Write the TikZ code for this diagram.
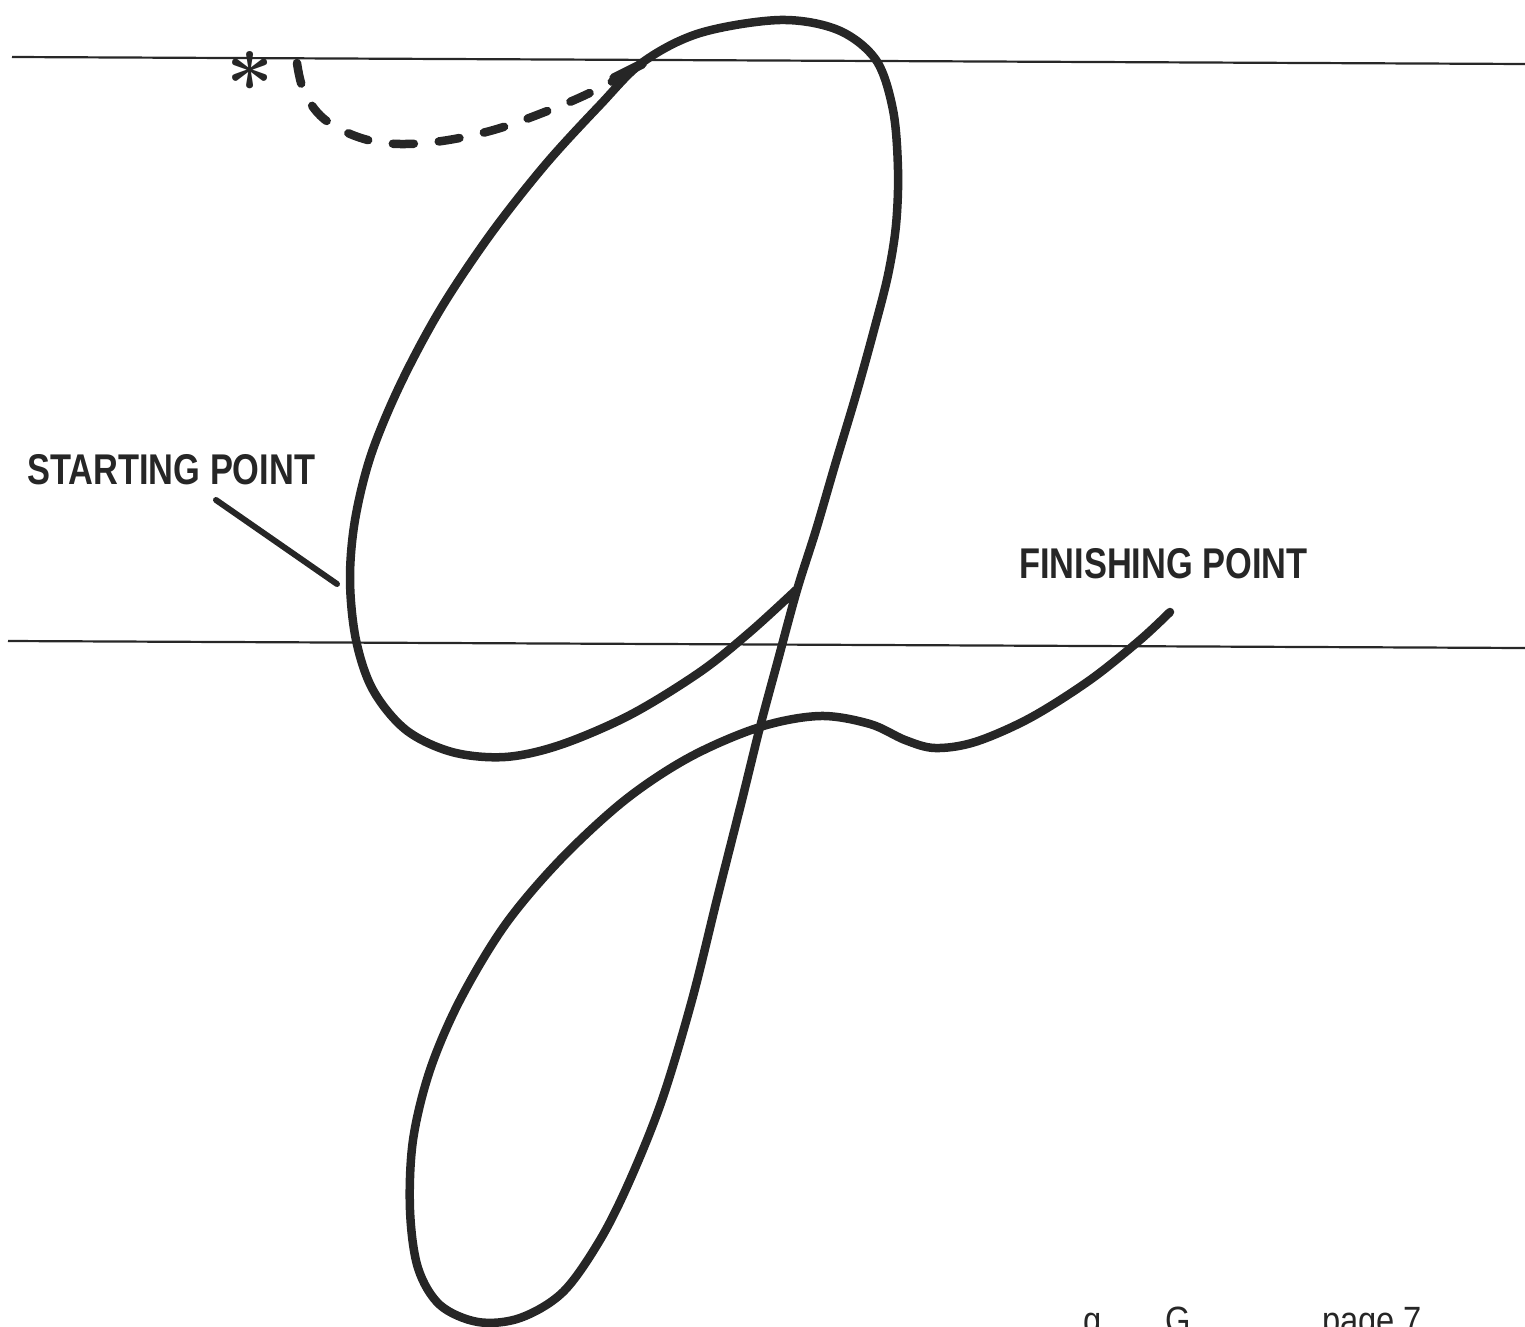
\documentclass[tikz,border=0pt]{standalone}
\usepackage{fontspec}
\usepackage{tikz}
\usetikzlibrary{calc}
\newfontfamily\capsfont{Liberation Sans}[FakeStretch=0.80]
\newfontfamily\pagefont{Liberation Sans}[FakeStretch=0.86]
\definecolor{Cink}{RGB}{38, 38, 38}
\definecolor{Cguide}{RGB}{40, 40, 40}
\tikzset{
    guide/.style={draw=Cguide, line width=2.2pt},
    pen/.style={draw=Cink, line width=8.5pt, line cap=round, line join=round},
    penlead/.style={pen, line width=8.5pt, dash pattern=on 21pt off 25pt},
    pointer/.style={draw=Cink, line width=6pt, line cap=round},
    ptlabel/.style={anchor=base west, inner sep=0pt, text=Cink,
        font=\capsfont\bfseries\fontsize{43}{48}\selectfont},
    pglabel/.style={anchor=base west, inner sep=0pt, text=Cink,
        font=\pagefont\fontsize{38}{44}\selectfont},
}

\begin{document}
\begin{tikzpicture}[x=1pt, y=-1pt]

    \useasboundingbox (0,0) rectangle (1525,1327);

    % writing guidelines
    \coordinate (topL) at (12,57);
    \coordinate (topR) at (1525,64);
    \coordinate (baseL) at (8,641);
    \coordinate (baseR) at (1525,648);
    \draw [guide] (topL) -- (topR);
    \draw [guide] (baseL) -- (baseR);

    % labels
    \node [ptlabel] (startlbl) at (27,484) {STARTING POINT};
    \node [ptlabel] (finishlbl) at (1019,578) {FINISHING POINT};
    \node [anchor=base, inner sep=0pt, text=Cink, font=\bfseries\fontsize{84}{86}\selectfont]
        (star) at (250,115) {*};

    \node [pglabel] (pglow) at (1083,1333) {g};
    \node [pglabel] (pgcap) at (1165,1333) {G};
    \node [pglabel] (pgnum) at (1322,1333) {page 7};

    % lead-in stroke from the star
    \coordinate (leadA) at (297,63);
    \coordinate (leadB) at (628,72);
    \draw [penlead] plot [smooth, tension=0.6] coordinates {
        (leadA) (305,94) (328,122) (372,141) (425,143) (490,131) (555,108) (600,88) (leadB)};
    \draw [pen, line width=9.5pt] (614,78) -- (642,64);

    % the letter
    \coordinate (cusp) at (796,590);
    \coordinate (endpt) at (1170,612);
    \draw [pen] plot [smooth, tension=0.55] coordinates {
        (cusp) (750,632) (700,672) (630,715) (560,745) (505,757) (452,752)
        (406,730) (373,690) (356,640) (350,580) (355,520) (371,455) (400,385)
        (440,310) (490,235) (545,165) (600,105) (643,62) (700,33) (780,20)
        (838,30) (876,60) (893,110) (898,170) (896,225) (888,275) (874,330)
        (856,395) (835,465) (816,530) (797,590) (778,660) (760,727) (742,800)
        (718,895) (692,1000) (662,1100) (630,1180) (600,1240) (563,1292)
        (520,1318) (478,1322) (440,1305) (418,1268) (410,1210) (413,1140)
        (430,1070) (460,1000) (505,925) (560,860) (625,800) (690,757)
        (760,727) (820,716) (870,724) (905,740) (935,748) (975,742)
        (1030,718) (1090,680) (1140,640) (endpt)};

    % pointer to the start
    \coordinate (ptrtop) at (216,500);
    \coordinate (startpt) at (337,584);
    \draw [pointer] (ptrtop) -- (startpt);

\end{tikzpicture}
\end{document}
